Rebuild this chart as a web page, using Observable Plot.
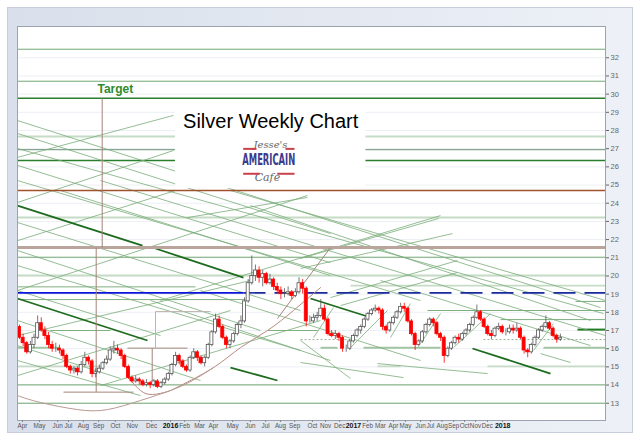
<!DOCTYPE html>
<html><head><meta charset="utf-8">
<script src="https://cdn.jsdelivr.net/npm/d3@7"></script>
<script src="https://cdn.jsdelivr.net/npm/@observablehq/plot@0.6"></script>
<style>
body{margin:0;background:#fff;}
#wrap{position:relative;width:640px;height:439px;font-family:"Liberation Sans",Arial,sans-serif;}
#frame{position:absolute;left:7px;top:7px;width:626px;height:426px;box-sizing:border-box;border:1px solid #c8cfdb;background:linear-gradient(to right,#d9e0eb 0%,#e3e8f1 50%,#edf1f7 100%);}
#chart{position:absolute;left:0;top:0;}
</style></head><body>
<div id="wrap"><div id="frame"></div><div id="chart"></div></div>
<script>
// ---- weekly OHLC (week index 0 = early Apr 2015) ----
const opens = [17.2,16.6,16.3,15.8,16.2,16.6,17.4,17.0,16.7,16.2, 16.0,16.0,15.9,15.6,15.0,14.8,14.9,14.7,15.1,15.5, 15.3,14.6,14.7,14.9,15.2,15.4,15.9,16.0,15.9,15.6, 15.0,14.4,14.2,14.3,14.2,14.0,14.1,14.0,14.2,13.9, 14.1,14.3,14.6,15.1,15.6,15.3,15.0,14.8,15.5,15.8, 15.5,15.2,15.5,16.2,16.9,17.6,17.2,16.6,16.2,16.4, 16.8,17.3,17.5,18.6,19.6,20.0,20.3,19.9,20.1,19.6, 19.8,19.4,19.2,19.0,19.0,19.1,18.9,19.1,19.6,19.3, 17.5,17.5,17.7,17.8,18.2,17.6,16.8,16.7,16.8,16.6, 16.0,16.0,16.4,16.7,17.0,17.2,17.6,17.9,18.1,18.2, 18.1,17.2,17.0,17.4,17.7,18.0,18.3,18.2,17.5,16.8, 16.2,16.4,16.9,17.3,17.6,17.4,16.8,16.6,15.6,16.0, 16.3,16.6,16.5,16.8,17.0,17.3,17.7,18.0,17.6,17.2, 16.8,16.7,17.1,17.2,16.9,16.9,17.1,17.0,17.1,16.6, 15.9,15.8,16.2,16.6,17.0,17.2,17.4,17.1,16.7,16.5];
const highs = [17.3,16.8,16.4,16.4,16.8,17.8,17.7,17.2,16.9,16.4, 16.3,16.2,16.0,15.7,15.1,15.0,15.0,15.3,15.8,15.6, 15.4,14.9,15.1,15.3,15.6,16.1,16.4,16.2,16.0,15.7, 15.1,14.5,14.5,14.4,14.3,14.3,14.2,14.3,14.3,14.2, 14.4,14.7,15.2,15.8,15.7,15.4,15.1,15.6,16.0,15.9, 15.6,15.6,16.3,17.0,17.9,17.8,17.3,16.7,16.5,16.9, 17.4,17.8,18.8,19.8,21.1,20.6,20.5,20.3,20.2,20.1, 19.9,19.6,19.4,19.3,19.4,19.2,19.3,19.9,19.8,19.4, 17.8,17.9,18.0,18.7,18.4,17.7,17.0,17.0,16.9,16.7, 16.2,16.5,16.8,17.1,17.3,17.7,18.0,18.2,18.4,18.3, 18.2,17.3,17.5,17.8,18.1,18.5,18.5,18.3,17.6,16.9, 16.5,17.0,17.4,17.7,17.7,17.5,16.9,16.7,16.1,16.4, 16.7,16.8,16.9,17.1,17.4,17.8,18.4,18.1,17.7,17.3, 17.0,17.2,17.4,17.3,17.1,17.3,17.3,17.4,17.2,16.7, 16.0,16.3,16.7,17.1,17.3,17.8,17.5,17.2,16.8,16.8];
const lows = [16.5,16.1,15.7,15.7,16.0,16.5,16.9,16.5,16.0,15.8, 15.8,15.7,15.4,14.9,14.6,14.6,14.5,14.6,15.0,15.1, 14.4,14.4,14.6,14.8,15.1,15.3,15.7,15.7,15.4,14.9, 14.3,14.1,14.1,14.0,13.9,13.9,13.8,13.9,13.8,13.8, 14.0,14.2,14.5,15.0,15.1,14.9,14.7,14.7,15.4,15.3, 15.1,15.0,15.4,16.1,16.8,17.1,16.5,16.0,16.0,16.3, 16.7,17.1,17.4,18.5,19.5,19.7,19.6,19.4,19.5,19.5, 19.2,19.0,18.7,18.8,18.9,18.7,18.8,19.0,19.0,17.2, 17.4,17.4,17.5,17.7,17.5,16.7,16.6,16.5,16.4,15.8, 15.8,15.9,16.3,16.6,16.8,17.1,17.5,17.8,18.0,17.9, 17.0,16.8,16.9,17.3,17.6,17.9,18.0,17.4,16.7,15.9, 16.1,16.3,16.8,17.2,17.2,16.7,16.4,15.2,15.5,15.9, 16.2,16.3,16.4,16.7,16.9,17.2,17.6,17.5,17.1,16.7, 16.5,16.6,17.0,16.8,16.7,16.8,16.8,16.9,16.5,15.7, 15.5,15.7,16.1,16.5,16.9,17.1,17.0,16.6,16.3,16.4];
const closes = [16.6,16.3,15.8,16.2,16.6,17.4,17.0,16.7,16.2,16.0, 16.0,15.9,15.6,15.0,14.8,14.9,14.7,15.1,15.5,15.3, 14.6,14.7,14.9,15.2,15.4,15.9,16.0,15.9,15.6,15.0, 14.4,14.2,14.3,14.2,14.0,14.1,14.0,14.2,13.9,14.1, 14.3,14.6,15.1,15.6,15.3,15.0,14.8,15.5,15.8,15.5, 15.2,15.5,16.2,16.9,17.6,17.2,16.6,16.2,16.4,16.8, 17.3,17.5,18.6,19.6,20.0,20.3,19.9,20.1,19.6,19.8, 19.4,19.2,19.0,19.0,19.1,18.9,19.1,19.6,19.3,17.5, 17.5,17.7,17.8,18.2,17.6,16.8,16.7,16.8,16.6,16.0, 16.0,16.4,16.7,17.0,17.2,17.6,17.9,18.1,18.2,18.1, 17.2,17.0,17.4,17.7,18.0,18.3,18.2,17.5,16.8,16.2, 16.4,16.9,17.3,17.6,17.4,16.8,16.6,15.6,16.0,16.3, 16.6,16.5,16.8,17.0,17.3,17.7,18.0,17.6,17.2,16.8, 16.7,17.1,17.2,16.9,16.9,17.1,17.0,17.1,16.6,15.9, 15.8,16.2,16.6,17.0,17.2,17.4,17.1,16.7,16.5,16.6];

// ---- axis ticks ----
const yTicks = [13,14,15,16,17,18,19,20,21,22,23,24,25,26,27,28,29,30,31,32];
const monthTickPos = [0.8,5.5,10.5,13.5,17.6,21.8,26.4,31.1,36.4, 45.5,49.6,53.4,58.7,63.6,67.8,71.9,75.8,80.7,84.3,88.2, 95.9,99.4,103.0,106.3,110.5,113.2,116.4,119.6,122.6,125.6,128.9];
const monthLabels = ["Apr","May","Jun","Jul","Aug","Sep","Oct","Nov","Dec","Feb","Mar","Apr","May","Jun","Jul","Aug","Sep","Oct","Nov","Dec","Feb","Mar","Apr","May","Jun","Jul","Aug","Sep","Oct","Nov","Dec"];
const yearTickPos = [41.6,92.0,133.1];
const yearLabels = ["2016","2017","2018"];

// ---- horizontal levels (price) ----
const greenLevels = [32.47,30.71,21.03,14.01,13.0];
const darkGreenLevels = [29.77];
const paleLevels = [23.21,20.02];
const siennaLevels = [24.70];
const tanLevels = [21.56];
// levels interrupted by the title panel [fromWeek, toWeek, price]
const paleBoxSegs = [[-0.55,43.0,27.67],[95.3,161.43,27.67]];
const greyGreenBoxSegs = [[-0.55,43.0,26.95],[95.3,161.43,26.95]];
const darkBoxSegs = [[-0.55,43.0,26.35],[95.3,161.43,26.35]];
// partial levels [fromWeek, toWeek, price]
const greenSegs = [[-0.55,62.26,18.7],[153.17,161.43,18.6],[112.4,161.43,18.1],[132.51,161.43,17.6],[-0.55,48.48,19.4],[8.54,25.07,17.0],[68.32,82.09,17.0]];
const paleSegs = [[91.18,161.43,19.47],[98.62,104.96,15.03],[128.93,161.43,15.03],[-0.55,22.31,15.03]];
const midSegs = [[-0.55,11.29,16.05],[82.92,87.6,16.05],[94.77,115.98,16.05],[144.35,161.43,16.05]];
const darkSegs = [[153.72,161.43,17.05]];
const dottedSegs = [[127.82,161.43,16.5],[77.41,91.18,16.5]];
const blueSolid = [[-0.55,61.71,19.07]];
const blueDashed = [[61.71,161.43,19.07]];

// ---- trend lines [week1, price1, week2, price2] ----
const thinDown = [[-0.55,28.55,160.06,18.26],[-0.55,27.84,85.67,22.33],[-0.55,27.01,160.88,17.93],[-0.55,26.08,85.67,20.73],[-0.55,25.25,110.47,18.65],[22.31,25.25,161.43,16.72],[-0.55,22.94,77.41,18.10],[-0.55,21.40,66.39,17.00],[-0.55,20.57,77.41,15.90],[-0.55,17.55,49.86,14.25],[-0.55,16.17,27.82,14.36],[49.86,19.20,110.47,15.35],[77.41,15.24,105.79,14.41],[77.41,16.45,91.18,14.36],[98.62,15.18,128.93,14.63],[143.53,15.73,151.79,15.24],[58.13,24.70,161.43,18.65],[63.64,23.87,157.30,17.55],[11.29,24.70,85.67,20.02],[-0.55,19.20,38.84,16.72],[36.09,18.65,85.67,15.35],[99.45,19.75,157.30,16.17],[-0.55,15.35,33.33,13.42]];
const thinUp = [[-0.55,26.52,42.42,28.83],[-0.55,24.04,42.42,26.90],[46.28,23.21,79.34,24.32],[-0.55,19.20,79.34,24.43],[-0.55,21.94,42.98,24.70],[38.84,18.65,115.98,23.32],[77.41,20.96,115.43,23.16],[77.41,20.41,119.28,22.33],[85.67,18.81,120.66,20.85],[88.43,18.37,120.66,20.19],[-0.55,16.72,63.64,19.75],[-0.55,14.52,58.13,18.10],[22.31,13.97,82.92,17.55],[81.0,16.61,86.5,18.26],[91.18,16.06,101.38,18.10],[102.2,16.61,107.71,18.48],[110.47,16.28,115.98,17.93],[119.56,16.06,129.75,17.93],[141.6,15.90,147.11,17.38]];
const thickDown = [[-0.55,23.87,33.88,21.67],[37.47,21.51,61.71,19.91],[-0.55,18.76,35.26,16.45],[58.13,14.96,71.07,14.25],[80.17,18.76,95.87,17.77],[124.79,16.01,146.28,14.63]];

// ---- target / base annotations ----
const brownLines = [[22.78,29.77,22.78,21.56],[21.13,21.56,21.13,13.61],[12.12,13.61,31.40,13.61],[29.75,16.03,46.28,16.03],[36.56,16.03,36.56,13.97],[71.07,17.66,85.67,21.56]];
const greyLines = [[37.47,16.03,37.47,18.04],[37.47,18.04,52.62,18.04]];
const cupWeeks = [30.03,33.33,36.64,40.77,44.35,53.44,60.88,68.32,75.48,82.92];
const cupPrices = [14.41,13.70,13.48,13.64,13.97,14.96,16.06,17.00,18.10,19.36];
const arcWeeks = [-0.55,5.79,15.98,24.24,33.33,41.60,47.66,53.44];
const arcPrices = [13.42,13.04,12.65,12.65,13.15,13.70,14.25,14.96];
const titleBox = [[43.0,24.8,95.3,29.6]];
const logoBars = [[61.63,26.99,65.29,26.99],[73.28,26.99,75.76,26.99],[61.63,25.62,66.2,25.62],[71.0,25.62,75.76,25.62]];

// ---- tables ----
const candles = closes.map((c, i) => ({i, open: opens[i], high: highs[i], low: lows[i], close: c}));
const up = candles.filter(d => d.close >= d.open);
const down = candles.filter(d => d.close < d.open);
const seg = a => ({x1: a[0], y1: a[1], x2: a[2], y2: a[3]});
const hseg = a => ({x1: a[0], x2: a[1], y: a[2]});
const months = monthTickPos.map((p, i) => ({p, t: monthLabels[i]}));
const years = yearTickPos.map((p, i) => ({p, t: yearLabels[i]}));
const cup = cupWeeks.map((w, i) => ({w, p: cupPrices[i]}));
const arc = arcWeeks.map((w, i) => ({w, p: arcPrices[i]}));

const hLink = (arr, opts) => Plot.link(arr.map(hseg), {x1: "x1", x2: "x2", y1: "y", y2: "y", ...opts});
const dLink = (arr, opts) => Plot.link(arr.map(seg), {x1: "x1", y1: "y1", x2: "x2", y2: "y2", ...opts});

const chart = Plot.plot({
  width: 640, height: 439,
  marginLeft: 17, marginRight: 35, marginTop: 26, marginBottom: 19,
  style: {background: "transparent", fontFamily: "Liberation Sans, Arial, sans-serif"},
  x: {domain: [-0.55, 161.43], axis: null},
  y: {domain: [12.05, 33.72], axis: null},
  marks: [
    Plot.frame({fill: "white"}),
    Plot.ruleY(yTicks, {stroke: "#eceff5"}),
    Plot.ruleY(paleLevels, {stroke: "#c6dcc6", strokeWidth: 2}),
    Plot.ruleY(greenLevels, {stroke: "#73a873", strokeWidth: 1}),
    Plot.ruleY(darkGreenLevels, {stroke: "#2a7f2e", strokeWidth: 1.5}),
    hLink(paleBoxSegs, {stroke: "#c6dcc6", strokeWidth: 2}),
    hLink(greyGreenBoxSegs, {stroke: "#86a690", strokeWidth: 1.2}),
    hLink(darkBoxSegs, {stroke: "#2a7f2e", strokeWidth: 1.5}),
    hLink(paleSegs, {stroke: "#c6dcc6", strokeWidth: 1.8}),
    hLink(midSegs, {stroke: "#a3c4a3", strokeWidth: 2}),
    hLink(greenSegs, {stroke: "#7fae7f", strokeWidth: 1}),
    hLink(darkSegs, {stroke: "#1f7a22", strokeWidth: 2}),
    hLink(dottedSegs, {stroke: "#7d9a7d", strokeWidth: 0.8, strokeDasharray: "2,2"}),
    dLink(thinDown, {stroke: "#78ac78", strokeWidth: 0.8}),
    dLink(thinUp, {stroke: "#78ac78", strokeWidth: 0.8}),
    dLink(thickDown, {stroke: "#1d6b1d", strokeWidth: 1.8}),
    hLink(blueSolid, {stroke: "#0b14d8", strokeWidth: 1.6}),
    hLink(blueDashed, {stroke: "#1a2a9e", strokeWidth: 1.6, strokeDasharray: "22,9"}),
    Plot.ruleY(siennaLevels, {stroke: "#a0522d", strokeWidth: 1.5}),
    Plot.ruleY(tanLevels, {stroke: "#b9a59b", strokeWidth: 3}),
    dLink(brownLines, {stroke: "#a28478", strokeWidth: 1}),
    dLink(greyLines, {stroke: "#bdb3ac", strokeWidth: 1}),
    Plot.line(cup, {x: "w", y: "p", curve: "natural", stroke: "#b98a82", strokeWidth: 1}),
    Plot.line(arc, {x: "w", y: "p", curve: "natural", stroke: "#b99a92", strokeWidth: 1}),
    // title panel (white, hides the lines beneath)
    Plot.rect(titleBox.map(seg), {x1: "x1", y1: "y1", x2: "x2", y2: "y2", fill: "white"}),
    Plot.text(["Silver Weekly Chart"], {x: 69.2, y: 28.5, fontSize: 20, fill: "#000", fontFamily: "Liberation Sans, Arial, sans-serif"}),
    Plot.text(["Jesse's"], {x: 69.15, y: 27.23, fontSize: 10, fontStyle: "italic", fontFamily: "DejaVu Serif", fill: "#666"}),
    Plot.text(["AMERICAIN"], {x: 68.67, y: 26.39, fontSize: 15, fontWeight: "bold", fontFamily: "DejaVu Sans Condensed, DejaVu Sans", fill: "#3b3b8c"}),
    Plot.text(["Cafe"], {x: 68.3, y: 25.41, fontSize: 11, fontStyle: "italic", fontFamily: "DejaVu Serif", fill: "#666"}),
    dLink(logoBars, {stroke: "#c8414b", strokeWidth: 2}),
    Plot.text(["Target"], {x: 26.4, y: 30.27, fontSize: 12, fontWeight: "bold", fill: "#2e8b2e"}),
    // candles
    Plot.ruleX(up, {x: "i", y1: "low", y2: "high", stroke: "#555", strokeWidth: 0.8}),
    Plot.ruleX(down, {x: "i", y1: "low", y2: "high", stroke: "#ff0000", strokeWidth: 0.8}),
    Plot.rect(up, {x1: d => d.i - 0.42, x2: d => d.i + 0.42, y1: "open", y2: "close", fill: "white", stroke: "#555", strokeWidth: 0.8}),
    Plot.rect(down, {x1: d => d.i - 0.42, x2: d => d.i + 0.42, y1: "open", y2: "close", fill: "#ff0000", stroke: "#ff0000", strokeWidth: 0.8}),
    Plot.frame({stroke: "#9ba3b0"}),
    // axes
    Plot.axisY(yTicks, {anchor: "right", tickSize: 3, tickPadding: 2, fontSize: 7.5, color: "#666"}),
    Plot.axisX(monthTickPos.concat(yearTickPos), {tickSize: 2, tickFormat: () => "", stroke: "#888"}),
    Plot.text(months, {x: "p", text: "t", frameAnchor: "bottom", lineAnchor: "top", dy: 3, fontSize: 6.3, fill: "#555"}),
    Plot.text(years, {x: "p", text: "t", frameAnchor: "bottom", lineAnchor: "top", dy: 3, fontSize: 7, fontWeight: "bold", fill: "#111"})
  ]
});
document.getElementById("chart").appendChild(chart);
d3.select(chart).selectAll("text").filter(function(){ return this.textContent === "AMERICAIN"; })
  .attr("textLength", 53).attr("lengthAdjust", "spacingAndGlyphs");
</script></body></html>
